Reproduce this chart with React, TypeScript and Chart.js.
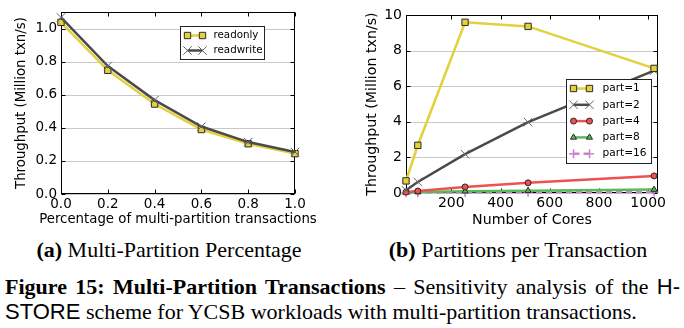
import React, { useEffect, useRef } from 'react';
import { Chart, registerables } from 'chart.js';
Chart.register(...registerables);

// ---------- Data ----------
const pctValues = [0, 0.2, 0.4, 0.6, 0.8, 1.0];
const readonlyVals = [1.038, 0.748, 0.544, 0.39, 0.304, 0.244];
const readwriteVals = [1.068, 0.774, 0.568, 0.408, 0.314, 0.254];
const pctXTicks = [0, 0.2, 0.4, 0.6, 0.8, 1.0];
const pctYTicks = [0, 0.2, 0.4, 0.6, 0.8, 1.0];

const coreCounts = [16, 64, 256, 512, 1024];
const part1Vals = [0.68, 2.68, 9.59, 9.36, 7.0];
const part2Vals = [0.15, 0.62, 2.18, 3.98, 6.87];
const part4Vals = [0.05, 0.11, 0.34, 0.57, 0.96];
const part8Vals = [0.03, 0.05, 0.1, 0.13, 0.19];
const part16Vals = [0.01, 0.02, 0.03, 0.04, 0.05];
const coreXTicks = [200, 400, 600, 800, 1000];
const coreYTicks = [0, 2, 4, 6, 8, 10];

// ---------- Styles ----------
const YELLOW = '#e3d03a';
const GRAY = '#4a4a4a';
const RED = '#ef5050';
const GREEN = '#58bb58';
const PURPLE = '#c584cc';
const EDGE = '#2a2a2a';
const FONT = '"DejaVu Sans", sans-serif';

type LegendEntry = {
  label: string;
  color: string;
  marker: string;
  fill: string;
  edge: string;
  dash?: number[];
  r: number;
};

function drawMarker(ctx: CanvasRenderingContext2D, m: LegendEntry, x: number, y: number) {
  ctx.save();
  ctx.setLineDash([]);
  ctx.lineWidth = 1;
  ctx.fillStyle = m.fill;
  ctx.strokeStyle = m.edge;
  const r = m.r;
  ctx.beginPath();
  if (m.marker === 'rect') {
    const s = r * Math.SQRT1_2;
    ctx.rect(x - s, y - s, 2 * s, 2 * s);
    ctx.fill();
    ctx.stroke();
  } else if (m.marker === 'circle') {
    ctx.arc(x, y, r, 0, Math.PI * 2);
    ctx.fill();
    ctx.stroke();
  } else if (m.marker === 'triangle') {
    ctx.moveTo(x, y - r);
    ctx.lineTo(x + r * 0.87, y + r * 0.5);
    ctx.lineTo(x - r * 0.87, y + r * 0.5);
    ctx.closePath();
    ctx.fill();
    ctx.stroke();
  } else if (m.marker === 'crossRot') {
    const s = r * Math.SQRT1_2;
    ctx.moveTo(x - s, y - s);
    ctx.lineTo(x + s, y + s);
    ctx.moveTo(x - s, y + s);
    ctx.lineTo(x + s, y - s);
    ctx.stroke();
  } else if (m.marker === 'cross') {
    ctx.lineWidth = 1.5;
    ctx.moveTo(x, y - r);
    ctx.lineTo(x, y + r);
    ctx.moveTo(x - r, y);
    ctx.lineTo(x + r, y);
    ctx.stroke();
  }
  ctx.restore();
}

type DecorOpts = {
  xTicks: number[];
  yTicks: number[];
  xTitle: string;
  yTitle: string;
  titleFont: number;
  xTitleY: number;
  yTitleX: number;
  legend: LegendEntry[];
  legendBox: { right: number; top: number; w: number; h: number };
  legendRow: number;
  legendFirst: number;
  legendFont: number;
  legendM1: number;
  legendM2: number;
  legendText: number;
};

function makeDecor(o: DecorOpts) {
  return {
    id: 'decor',
    beforeDatasetsDraw(chart: any) {
      const { ctx, chartArea: a, scales } = chart;
      const L = Math.round(a.left) + 0.5;
      const R = Math.round(a.right) - 0.5;
      const T = Math.round(a.top) + 0.5;
      const B = Math.round(a.bottom) - 0.5;
      ctx.save();
      ctx.strokeStyle = '#c8c8c8';
      ctx.lineWidth = 1;
      for (const v of o.yTicks) {
        const py = Math.round(scales.y.getPixelForValue(v)) + 0.5;
        ctx.beginPath();
        ctx.moveTo(L, py);
        ctx.lineTo(R, py);
        ctx.stroke();
      }
      ctx.strokeStyle = '#000';
      for (const v of o.xTicks) {
        const px = Math.round(scales.x.getPixelForValue(v)) + 0.5;
        ctx.beginPath();
        ctx.moveTo(px, B);
        ctx.lineTo(px, B - 4);
        ctx.moveTo(px, T);
        ctx.lineTo(px, T + 4);
        ctx.stroke();
      }
      for (const v of o.yTicks) {
        const py = Math.round(scales.y.getPixelForValue(v)) + 0.5;
        ctx.beginPath();
        ctx.moveTo(L, py);
        ctx.lineTo(L + 4, py);
        ctx.moveTo(R, py);
        ctx.lineTo(R - 4, py);
        ctx.stroke();
      }
      ctx.strokeStyle = '#000';
      ctx.lineWidth = 1;
      ctx.strokeRect(L, T, R - L, B - T);
      ctx.restore();
    },
    afterDraw(chart: any) {
      const { ctx, chartArea: a } = chart;
      ctx.save();
      ctx.fillStyle = '#000';
      ctx.font = `${o.titleFont}px ${FONT}`;
      ctx.textAlign = 'center';
      ctx.textBaseline = 'middle';
      ctx.fillText(o.xTitle, (a.left + a.right) / 2, o.xTitleY);
      ctx.save();
      ctx.translate(o.yTitleX, (a.top + a.bottom) / 2);
      ctx.rotate(-Math.PI / 2);
      ctx.fillText(o.yTitle, 0, 0);
      ctx.restore();
      const bx = Math.round(a.right - o.legendBox.right - o.legendBox.w) + 0.5;
      const by = Math.round(a.top + o.legendBox.top) + 0.5;
      ctx.fillStyle = '#fff';
      ctx.fillRect(bx, by, o.legendBox.w, o.legendBox.h);
      ctx.strokeStyle = '#222';
      ctx.lineWidth = 1;
      ctx.strokeRect(bx, by, o.legendBox.w, o.legendBox.h);
      ctx.font = `${o.legendFont}px ${FONT}`;
      ctx.textAlign = 'left';
      o.legend.forEach((e, i) => {
        const y = by + o.legendFirst + i * o.legendRow;
        const x1 = bx + o.legendM1;
        const x2 = bx + o.legendM2;
        ctx.save();
        ctx.strokeStyle = e.color;
        ctx.lineWidth = 2.5;
        if (e.dash) ctx.setLineDash(e.dash);
        ctx.beginPath();
        ctx.moveTo(x1, y);
        ctx.lineTo(x2, y);
        ctx.stroke();
        ctx.restore();
        drawMarker(ctx, e, x1, y);
        drawMarker(ctx, e, x2, y);
        ctx.fillStyle = '#000';
        ctx.fillText(e.label, bx + o.legendText, y);
      });
      ctx.restore();
    },
  };
}

function LeftChart() {
  const ref = useRef<HTMLCanvasElement>(null);
  useEffect(() => {
    const legend: LegendEntry[] = [
      { label: 'readonly', color: YELLOW, marker: 'rect', fill: YELLOW, edge: EDGE, r: 4.5 },
      { label: 'readwrite', color: GRAY, marker: 'crossRot', fill: GRAY, edge: '#666', r: 6 },
    ];
    const chart = new Chart(ref.current as HTMLCanvasElement, {
      type: 'line',
      data: {
        datasets: [
          {
            label: 'readonly',
            data: pctValues.map((x, i) => ({ x, y: readonlyVals[i] })),
            borderColor: YELLOW,
            borderWidth: 2.5,
            pointStyle: 'rect',
            pointRadius: 4.5,
            pointBackgroundColor: YELLOW,
            pointBorderColor: EDGE,
            pointBorderWidth: 1,
            order: 1,
            clip: false as any,
          },
          {
            label: 'readwrite',
            data: pctValues.map((x, i) => ({ x, y: readwriteVals[i] })),
            borderColor: GRAY,
            borderWidth: 2.5,
            pointStyle: 'crossRot',
            pointRadius: 6,
            pointBorderColor: '#666',
            pointBorderWidth: 1,
            order: 0,
            clip: false as any,
          },
        ],
      },
      options: {
        responsive: false,
        animation: false,
        devicePixelRatio: 1,
        layout: { padding: { left: 0, right: 45, top: 11, bottom: 0 } },
        plugins: { legend: { display: false }, tooltip: { enabled: false } },
        scales: {
          x: {
            type: 'linear',
            min: 0,
            max: 1,
            grid: { display: false, drawTicks: false },
            border: { display: false },
            ticks: {
              color: '#000',
              font: { family: FONT, size: 13.5 },
              padding: 2,
              maxRotation: 0,
              autoSkip: false,
              callback: (v: any) => Number(v).toFixed(1),
            },
            afterBuildTicks: (s: any) => {
              s.ticks = pctXTicks.map((v) => ({ value: v }));
            },
            afterFit: (s: any) => {
              s.height = 36;
            },
          },
          y: {
            type: 'linear',
            min: 0,
            max: 1.1,
            grid: { display: false, drawTicks: false },
            border: { display: false },
            ticks: {
              color: '#000',
              font: { family: FONT, size: 13.5 },
              padding: 4,
              autoSkip: false,
              callback: (v: any) => Number(v).toFixed(1),
            },
            afterBuildTicks: (s: any) => {
              s.ticks = pctYTicks.map((v) => ({ value: v }));
            },
            afterFit: (s: any) => {
              s.width = 61;
            },
          },
        },
      },
      plugins: [
        makeDecor({
          xTicks: pctXTicks,
          yTicks: pctYTicks,
          xTitle: 'Percentage of multi-partition transactions',
          yTitle: 'Throughput (Million txn/s)',
          titleFont: 13.3,
          xTitleY: 220,
          yTitleX: 22,
          legend,
          legendBox: { right: 31, top: 14, w: 84, h: 33 },
          legendRow: 15,
          legendFirst: 9,
          legendFont: 10.3,
          legendM1: 7,
          legendM2: 22,
          legendText: 33,
        }),
      ],
    } as any);
    return () => chart.destroy();
  }, []);
  return (
    <canvas
      ref={ref}
      width={340}
      height={230}
      style={{ position: 'absolute', left: 0, top: 0, width: 340, height: 230 }}
    />
  );
}

function RightChart() {
  const ref = useRef<HTMLCanvasElement>(null);
  useEffect(() => {
    const legend: LegendEntry[] = [
      { label: 'part=1', color: YELLOW, marker: 'rect', fill: YELLOW, edge: EDGE, r: 4.5 },
      { label: 'part=2', color: GRAY, marker: 'crossRot', fill: GRAY, edge: '#666', r: 6 },
      { label: 'part=4', color: RED, marker: 'circle', fill: RED, edge: EDGE, r: 3 },
      { label: 'part=8', color: GREEN, marker: 'triangle', fill: GREEN, edge: EDGE, r: 3.5 },
      { label: 'part=16', color: PURPLE, marker: 'cross', fill: PURPLE, edge: PURPLE, r: 4.5, dash: [6, 4] },
    ];
    const mk = (label: string, vals: number[], e: LegendEntry, dash?: number[]) => ({
      label,
      data: coreCounts.map((x, i) => ({ x, y: vals[i] })),
      borderColor: e.color,
      borderWidth: 2.5,
      borderDash: dash || [],
      pointStyle: e.marker,
      pointRadius: e.r,
      pointBackgroundColor: e.fill,
      pointBorderColor: e.edge,
      pointBorderWidth: e.marker === 'cross' ? 1.5 : 1,
      clip: false as any,
    });
    const chart = new Chart(ref.current as HTMLCanvasElement, {
      type: 'line',
      data: {
        datasets: [
          mk('part=1', part1Vals, legend[0]),
          mk('part=2', part2Vals, legend[1]),
          mk('part=4', part4Vals, legend[2]),
          mk('part=8', part8Vals, legend[3]),
          mk('part=16', part16Vals, legend[4], [6, 4]),
        ],
      },
      options: {
        responsive: false,
        animation: false,
        devicePixelRatio: 1,
        layout: { padding: { left: 0, right: 26, top: 15, bottom: 0 } },
        plugins: { legend: { display: false }, tooltip: { enabled: false } },
        scales: {
          x: {
            type: 'linear',
            min: 16,
            max: 1040,
            grid: { display: false, drawTicks: false },
            border: { display: false },
            ticks: {
              color: '#000',
              font: { family: FONT, size: 14 },
              padding: 2,
              maxRotation: 0,
              autoSkip: false,
              callback: (v: any) => String(v),
            },
            afterBuildTicks: (s: any) => {
              s.ticks = coreXTicks.map((v) => ({ value: v }));
            },
            afterFit: (s: any) => {
              s.height = 37;
            },
          },
          y: {
            type: 'linear',
            min: 0,
            max: 10,
            grid: { display: false, drawTicks: false },
            border: { display: false },
            ticks: {
              color: '#000',
              font: { family: FONT, size: 14 },
              padding: 4,
              autoSkip: false,
              callback: (v: any) => String(v),
            },
            afterBuildTicks: (s: any) => {
              s.ticks = coreYTicks.map((v) => ({ value: v }));
            },
            afterFit: (s: any) => {
              s.width = 66;
            },
          },
        },
      },
      plugins: [
        makeDecor({
          xTicks: coreXTicks,
          yTicks: coreYTicks,
          xTitle: 'Number of Cores',
          yTitle: 'Throughput (Million txn/s)',
          titleFont: 14.2,
          xTitleY: 220,
          yTitleX: 32,
          legend,
          legendBox: { right: 7, top: 64, w: 85, h: 84 },
          legendRow: 16.3,
          legendFirst: 9,
          legendFont: 10.6,
          legendM1: 7,
          legendM2: 23,
          legendText: 36,
        }),
      ],
    } as any);
    return () => chart.destroy();
  }, []);
  return (
    <canvas
      ref={ref}
      width={344}
      height={230}
      style={{ position: 'absolute', left: 340, top: 0, width: 344, height: 230 }}
    />
  );
}

const SERIF = '"Liberation Serif", "Times New Roman", serif';
const SANS = '"Liberation Sans", Arial, sans-serif';

export default function App() {
  const capStyle: React.CSSProperties = {
    position: 'absolute',
    fontFamily: SERIF,
    fontSize: 22,
    lineHeight: 1,
    whiteSpace: 'nowrap',
    color: '#000',
  };
  return (
    <div style={{ position: 'fixed', left: 0, top: 0, width: 684, height: 328, background: '#fff', overflow: 'hidden' }}>
      <LeftChart />
      <RightChart />
      <div style={{ ...capStyle, left: 0, width: 338, top: 239, textAlign: 'center' }}>
        <b>(a)</b> Multi-Partition Percentage
      </div>
      <div style={{ ...capStyle, left: 350, width: 336, top: 239, textAlign: 'center' }}>
        <b>(b)</b> Partitions per Transaction
      </div>
      <div
        style={{
          ...capStyle,
          left: 5,
          width: 675,
          top: 276,
          textAlign: 'justify',
          textAlignLast: 'justify' as any,
          whiteSpace: 'normal',
        }}
      >
        <b>Figure 15: Multi-Partition Transactions</b> – Sensitivity analysis of the{' '}
        <span style={{ fontFamily: SANS }}>H-</span>
      </div>
      <div style={{ ...capStyle, left: 5, top: 301 }}>
        <span style={{ fontFamily: SANS }}>STORE</span> scheme for YCSB workloads with multi-partition transactions.
      </div>
    </div>
  );
}
